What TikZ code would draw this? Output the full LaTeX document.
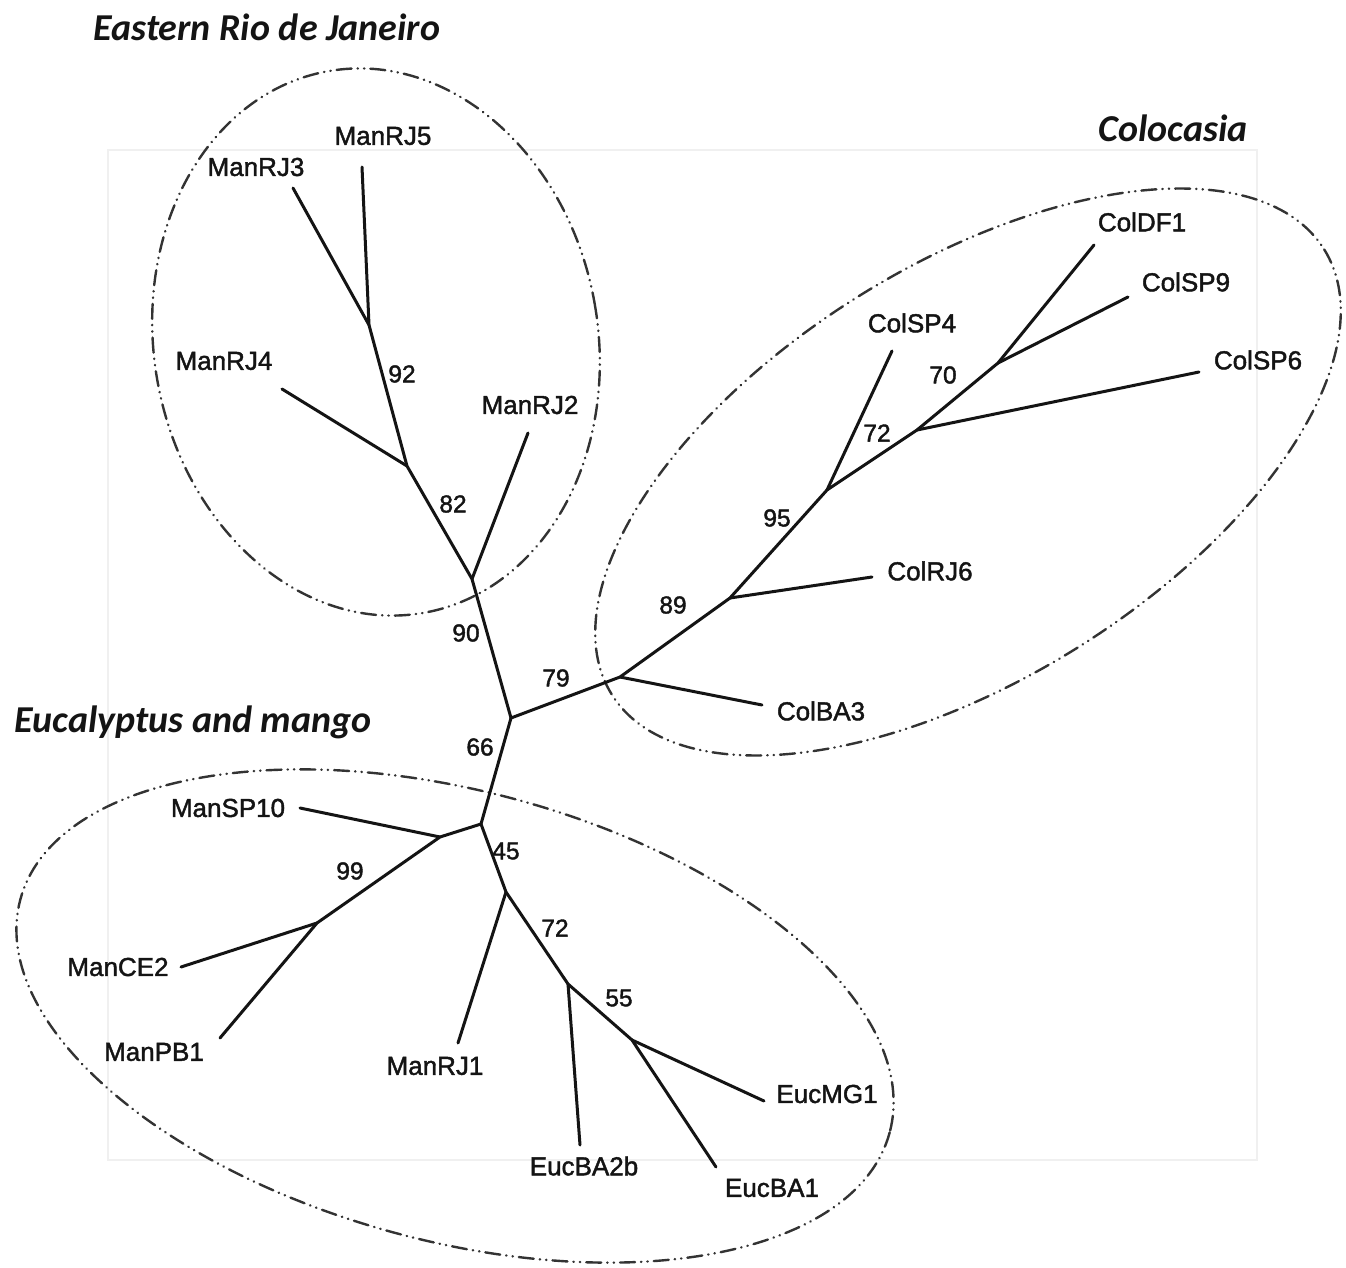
\documentclass[tikz,border=0pt]{standalone}
\usepackage{fontspec}
\setmainfont{Liberation Sans}
\newfontfamily\leaffont[FakeBold=1.6]{Liberation Sans}
\newfontfamily\titlefont{Carlito}
\begin{document}
\begin{tikzpicture}[x=1pt,y=-1pt,
  branch/.style={line width=3pt, line cap=round, line join=round, black!92},
  leaf/.style={font=\leaffont\fontsize{26}{30}\selectfont, inner sep=0pt, text=black!92},
  boot/.style={font=\leaffont\fontsize{24.5}{28}\selectfont, inner sep=0pt, text=black!92},
  clade/.style={line width=2.4pt, black!80, line cap=round,
    dash pattern=on 15pt off 6pt on 0.4pt off 6pt on 0.4pt off 6pt},
  grouptitle/.style={font=\titlefont\bfseries\itshape\fontsize{38}{45}\selectfont, inner sep=0pt, text=black!92}]

% canvas
\fill[white] (0,0) rectangle (1346,1268);
\useasboundingbox (0,0) rectangle (1346,1268);
\draw[black!6, line width=1.2pt] (108,150) rectangle (1257,1160);

% clade outlines
\draw[clade, rotate around={10:(376,342)}] (376,342) ellipse [x radius=222, y radius=275];
\draw[clade, rotate around={32:(968,472)}] (968,472) ellipse [x radius=420, y radius=207];
\draw[clade, rotate around={-15:(455,1016)}] (455,1016) ellipse [x radius=450, y radius=225];

% group titles
\node[grouptitle] (tEast) at (267,27) {Eastern Rio de Janeiro};
\node[grouptitle] (tColo) at (1173,128) {Colocasia};
\node[grouptitle] (tEuc) at (193,722) {Eucalyptus and mango};

% internal nodes
\coordinate (root) at (511,718);
\coordinate (rA) at (369,325);
\coordinate (rB) at (407,466);
\coordinate (rC) at (472,579);
\coordinate (cE) at (620,677);
\coordinate (cF) at (730,598);
\coordinate (cG) at (827,490);
\coordinate (cH) at (917,430);
\coordinate (cI) at (998,363);
\coordinate (eJ) at (481,824);
\coordinate (eK) at (440,837);
\coordinate (eL) at (317,923);
\coordinate (eM) at (506,892);
\coordinate (eN) at (568,984);
\coordinate (eO) at (632,1040);

% branch tips
\coordinate (xRJ5) at (362,167);
\coordinate (xRJ3) at (293,188);
\coordinate (xRJ4) at (282,389);
\coordinate (xRJ2) at (528,433);
\coordinate (xBA3) at (762,705);
\coordinate (xRJ6) at (872,577);
\coordinate (xSP4) at (892,351);
\coordinate (xSP6) at (1199,372);
\coordinate (xDF1) at (1094,245);
\coordinate (xSP9) at (1128,297);
\coordinate (xSP10) at (300,808);
\coordinate (xCE2) at (181,967);
\coordinate (xPB1) at (220,1038);
\coordinate (xRJ1) at (458,1043);
\coordinate (xBA2b) at (580,1145);
\coordinate (xMG1) at (764,1101);
\coordinate (xBA1) at (716,1167);

% branches
\draw[branch] (root) -- (rC) -- (rB) -- (rA) -- (xRJ5);
\draw[branch] (rA) -- (xRJ3);
\draw[branch] (rB) -- (xRJ4);
\draw[branch] (rC) -- (xRJ2);
\draw[branch] (root) -- (cE) -- (cF) -- (cG) -- (cH) -- (cI) -- (xDF1);
\draw[branch] (cE) -- (xBA3);
\draw[branch] (cF) -- (xRJ6);
\draw[branch] (cG) -- (xSP4);
\draw[branch] (cH) -- (xSP6);
\draw[branch] (cI) -- (xSP9);
\draw[branch] (root) -- (eJ) -- (eK) -- (eL) -- (xPB1);
\draw[branch] (eK) -- (xSP10);
\draw[branch] (eL) -- (xCE2);
\draw[branch] (eJ) -- (eM) -- (eN) -- (eO) -- (xBA1);
\draw[branch] (eM) -- (xRJ1);
\draw[branch] (eN) -- (xBA2b);
\draw[branch] (eO) -- (xMG1);

% leaf labels
\node[leaf] (lRJ5) at (383,136) {ManRJ5};
\node[leaf] (lRJ3) at (256,167) {ManRJ3};
\node[leaf] (lRJ4) at (224,361) {ManRJ4};
\node[leaf] (lRJ2) at (530,405) {ManRJ2};
\node[leaf] (lBA3) at (821,711) {ColBA3};
\node[leaf] (lRJ6) at (930,571) {ColRJ6};
\node[leaf] (lSP4) at (912,323) {ColSP4};
\node[leaf] (lSP6) at (1258,360) {ColSP6};
\node[leaf] (lDF1) at (1142,222) {ColDF1};
\node[leaf] (lSP9) at (1186,282) {ColSP9};
\node[leaf] (lSP10) at (228,808) {ManSP10};
\node[leaf] (lCE2) at (118,967) {ManCE2};
\node[leaf] (lPB1) at (154,1052) {ManPB1};
\node[leaf] (lRJ1) at (435,1066) {ManRJ1};
\node[leaf] (lBA2b) at (584,1166) {EucBA2b};
\node[leaf] (lMG1) at (827,1094) {EucMG1};
\node[leaf] (lBA1) at (772,1188) {EucBA1};

% bootstrap support
\node[boot] (b92) at (402,374) {92};
\node[boot] (b82) at (453,504) {82};
\node[boot] (b90) at (466,633) {90};
\node[boot] (b79) at (556,678) {79};
\node[boot] (b89) at (673,605) {89};
\node[boot] (b95) at (777,518) {95};
\node[boot] (b72a) at (877,433) {72};
\node[boot] (b70) at (943,375) {70};
\node[boot] (b66) at (480,747) {66};
\node[boot] (b99) at (350,871) {99};
\node[boot] (b45) at (506,851) {45};
\node[boot] (b72b) at (555,928) {72};
\node[boot] (b55) at (619,998) {55};
\end{tikzpicture}
\end{document}
